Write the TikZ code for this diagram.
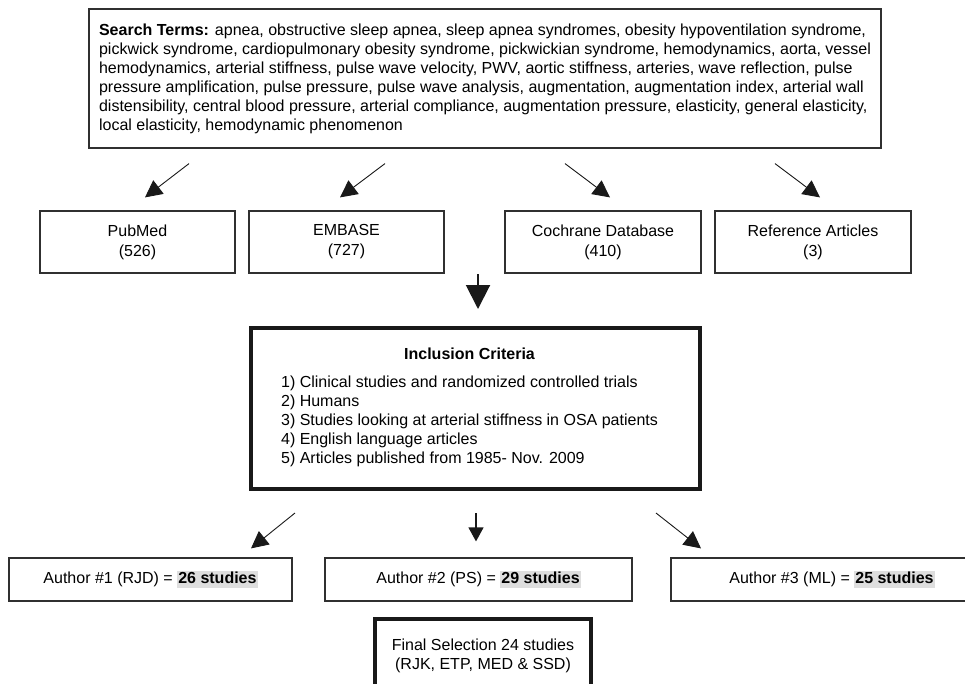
\documentclass[tikz,border=0pt]{standalone}
\usepackage{fontspec}
\setmainfont{Liberation Sans}
\usetikzlibrary{arrows.meta,calc}
\definecolor{boxline}{HTML}{303030}
\definecolor{hlgray}{HTML}{DEDEDE}
\newcommand{\hlstud}[1]{{\setlength{\fboxsep}{1pt}\colorbox{hlgray}{\vphantom{Ay}\bfseries #1}}}
\begin{document}
\begin{tikzpicture}[x=1pt,y=-1pt,
    every node/.style={font=\fontsize{16}{19}\selectfont},
    box/.style={draw=boxline,line width=1.2pt,inner sep=0pt,align=center},
    heavybox/.style={draw=black!90,line width=4pt,inner sep=0pt,align=center},
    arr/.style={draw=black!90,line width=0.9pt,-{Triangle[length=17pt,width=17pt]}},
    bigarr/.style={draw=black!90,line width=2pt,-{Triangle[length=24pt,width=24pt]}},
    smallarr/.style={draw=black!90,line width=1.2pt,-{Triangle[length=14pt,width=15pt]}}]
  \useasboundingbox (0,0) rectangle (965,683);
  \clip (0,0) rectangle (965,683);
  \node[box,align=left,minimum width=792,minimum height=139] (terms) at (485,78.5)
    {\textbf{Search Terms:} apnea, obstructive sleep apnea, sleep apnea syndromes, obesity hypoventilation syndrome,\\
     pickwick syndrome, cardiopulmonary obesity syndrome, pickwickian syndrome, hemodynamics, aorta, vessel\\
     hemodynamics, arterial stiffness, pulse wave velocity, PWV, aortic stiffness, arteries, wave reflection, pulse\\
     pressure amplification, pulse pressure, pulse wave analysis, augmentation, augmentation index, arterial wall\\
     distensibility, central blood pressure, arterial compliance, augmentation pressure, elasticity, general elasticity,\\
     local elasticity, hemodynamic phenomenon};
  \node[box,minimum width=195,minimum height=62,font=\fontsize{16}{20}\selectfont] (pub) at (137.5,242) {PubMed\\(526)};
  \node[box,minimum width=195,minimum height=62,font=\fontsize{16}{20}\selectfont] (emb) at (346.5,242) {EMBASE\\(727)};
  \node[box,minimum width=196,minimum height=62,font=\fontsize{16}{20}\selectfont] (coch) at (603,242) {Cochrane Database\\(410)};
  \node[box,minimum width=196,minimum height=62,font=\fontsize{16}{20}\selectfont] (refa) at (813,242) {Reference Articles\\(3)};
  \draw[arr] ($(terms.south)+(-296,15)$) -- ($(pub.north)+(7.5,-13)$);
  \draw[arr] ($(terms.south)+(-100,15)$) -- ($(emb.north)+(-6.5,-13)$);
  \draw[arr] ($(terms.south)+(80,15)$) -- ($(coch.north)+(7,-13)$);
  \draw[arr] ($(terms.south)+(290,15)$) -- ($(refa.north)+(7,-13)$);
  \node[heavybox,minimum width=449,minimum height=161] (incl) at (475.5,408.5)
    {{\bfseries Inclusion Criteria}\hspace*{12pt}\\[9pt]
     \begin{tabular}[t]{@{}l@{}}
     1) Clinical studies and randomized controlled trials\\
     2) Humans\\
     3) Studies looking at arterial stiffness in OSA patients\\
     4) English language articles\\
     5) Articles published from 1985- Nov. 2009
     \end{tabular}\hspace*{12pt}};
  \draw[bigarr] ($(incl.north)+(2.5,-52)$) -- ($(incl.north)+(2.5,-17)$);
  \node[box,minimum width=283,minimum height=43] (au1) at (150.5,579.5) {Author \#1 (RJD) = \hlstud{26 studies}};
  \node[box,minimum width=307,minimum height=43] (au2) at (478.5,579.5) {Author \#2 (PS) = \hlstud{29 studies}};
  \node[box,minimum width=322,minimum height=43] (au3) at (832,579.5) {Author \#3 (ML) = \hlstud{25 studies}};
  \draw[arr] ($(incl.south)+(-180.5,22)$) -- ($(au1.north)+(100.5,-9)$);
  \draw[smallarr] ($(incl.south)+(0.5,22)$) -- ($(au2.north)+(-2.5,-16)$);
  \draw[arr] ($(incl.south)+(180.5,22)$) -- ($(au3.north)+(-131,-9)$);
  \node[heavybox,minimum width=216,minimum height=73] (final) at (483,655.5)
    {Final Selection 24 studies\\(RJK, ETP, MED \& SSD)};
\end{tikzpicture}
\end{document}
